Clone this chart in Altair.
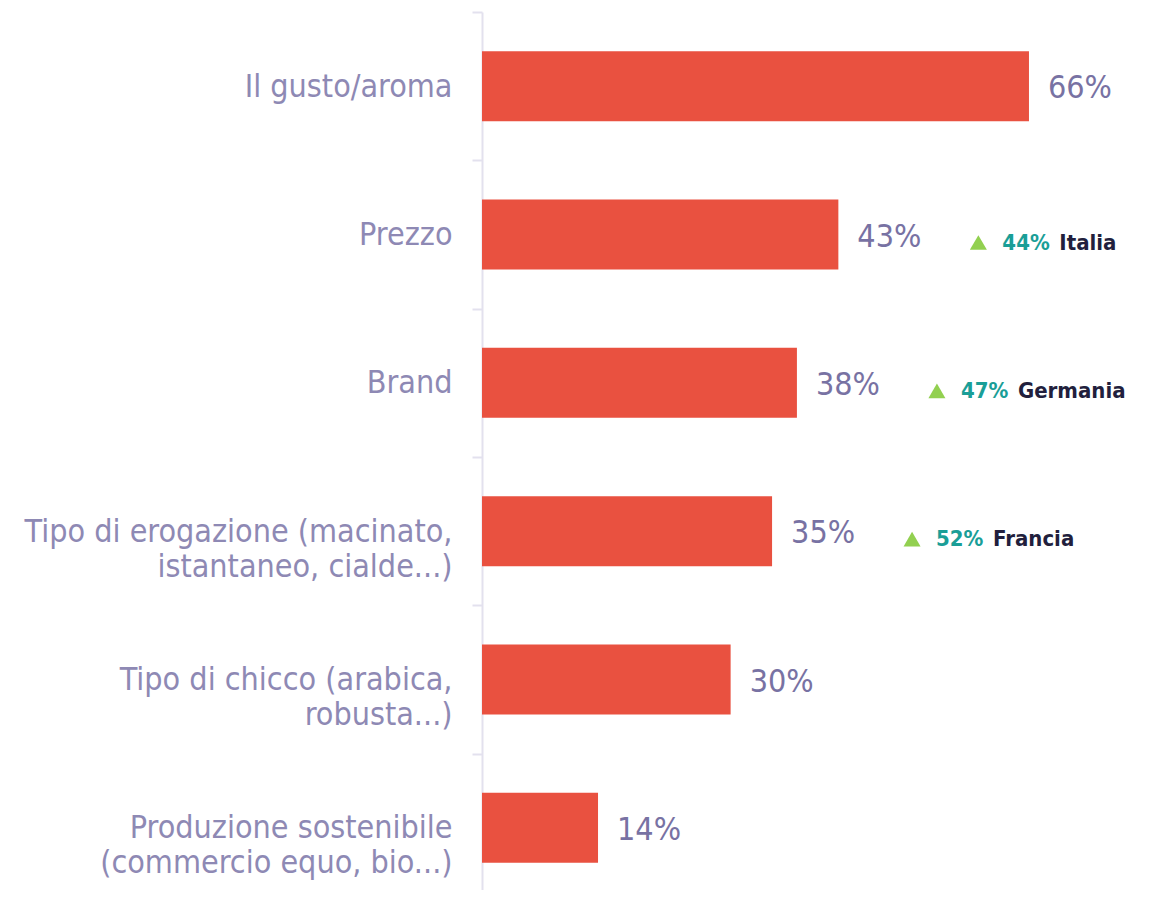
import altair as alt
import pandas as pd

categories = [
    "Il gusto/aroma",
    "Prezzo",
    "Brand",
    "Tipo di erogazione (macinato,\nistantaneo, cialde...)",
    "Tipo di chicco (arabica,\nrobusta...)",
    "Produzione sostenibile\n(commercio equo, bio...)",
]
values = [66, 43, 38, 35, 30, 14]

ann_categories = ["Prezzo", "Brand", "Tipo di erogazione (macinato,\nistantaneo, cialde...)"]
ann_pcts = ["44%", "47%", "52%"]
ann_countries = ["Italia", "Germania", "Francia"]

bars_df = pd.DataFrame({
    "cat": categories,
    "val": values,
    "label": [f"{v}%" for v in values],
})
lookup = dict(zip(categories, values))
ann_df = pd.DataFrame({
    "cat": ann_categories,
    "val": [lookup[c] for c in ann_categories],
    "pct": ann_pcts,
    "country": ann_countries,
})

FONT = "DejaVu Sans Condensed"

y = alt.Y(
    "cat:N",
    scale=alt.Scale(domain=categories, paddingInner=0, paddingOuter=0, range=[0, 890]),
    axis=alt.Axis(
        title=None,
        tickBand="extent",
        labelExpr="split(datum.label, '\\n')",
        labelFont=FONT,
        labelFontSize=32,
        labelColor="#8e89b4",
        labelLineHeight=35,
        labelLimit=600,
        labelPadding=20,
        tickSize=10,
        tickColor="#e3e1ee",
        tickWidth=2,
        domainColor="#e3e1ee",
        domainWidth=2,
        grid=False,
    ),
)
x = alt.X("val:Q", scale=alt.Scale(domain=[0, 80]), axis=None)

bars = alt.Chart(bars_df).mark_bar(
    color="#e95140", height=alt.RelativeBandSize(band=0.472)
).encode(x=x, y=y)

vals = alt.Chart(bars_df).mark_text(
    align="left", baseline="middle", dx=19, dy=2, font=FONT, fontSize=32, color="#7872a3"
).encode(x=x, y=y, text="label:N")

tri = alt.Chart(ann_df).mark_point(
    shape="triangle-up", filled=True, size=290, color="#92d050", opacity=1,
    xOffset=140, yOffset=8,
).encode(x=x, y=y)

pct = alt.Chart(ann_df).mark_text(
    align="left", baseline="middle", dx=164, dy=8, font=FONT, fontSize=22,
    fontWeight="bold", color="#1a9e97"
).encode(x=x, y=y, text="pct:N")

country = alt.Chart(ann_df).mark_text(
    align="left", baseline="middle", dx=221, dy=8, font=FONT, fontSize=22,
    fontWeight="bold", color="#221f3d"
).encode(x=x, y=y, text="country:N")

chart = (
    alt.layer(bars, vals, tri, pct, country)
    .properties(
        width=663,
        height=878,
        autosize=alt.AutoSizeParams(type="none"),
        padding={"left": 474, "top": 4, "right": 0, "bottom": 0},
    )
    .configure_view(stroke=None)
)

chart.save("out.html", embed_options={"renderer": "svg", "actions": False})
